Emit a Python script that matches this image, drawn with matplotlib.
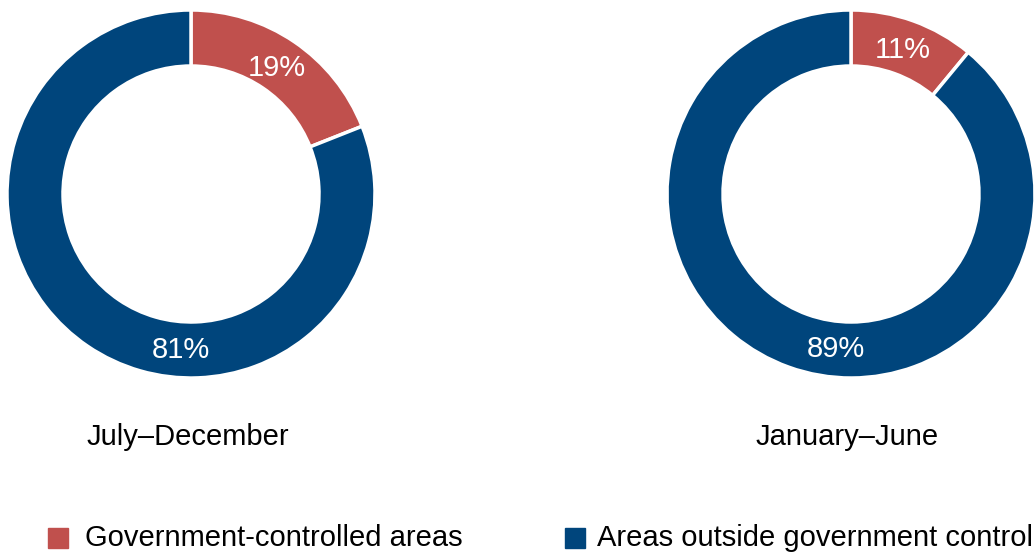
import numpy as np
import matplotlib.pyplot as plt
from matplotlib.patches import Rectangle

plt.rcParams['font.family'] = ['Liberation Sans', 'DejaVu Sans']

# data
periods = ['July–December', 'January–June']
gov_share = [19, 11]
outside_share = [81, 89]
series = ['Government-controlled areas', 'Areas outside government control']
colors = ['#C0504D', '#00457C']
# angle (deg) where the blue label sits
outside_label_angle = [-93.7, -95.5]

W, H = 1035, 552
fig = plt.figure(figsize=(W/100, H/100), dpi=100, facecolor='white')

centers_x = [191, 851]
cy = 194
r_px = 184
inner = 128/184

for i in range(2):
    ax = fig.add_axes([(centers_x[i]-r_px)/W, (H-cy-r_px)/H, 2*r_px/W, 2*r_px/H])
    vals = [gov_share[i], outside_share[i]]
    ax.pie(vals, colors=colors, startangle=90, counterclock=False, radius=1,
           wedgeprops=dict(width=1-inner, edgecolor='white', linewidth=2.5))
    ax.set_xlim(-1, 1)
    ax.set_ylim(-1, 1)
    ax.set_aspect('equal')
    ax.axis('off')
    mid_r = (1+inner)/2
    a_red = np.deg2rad(90 - vals[0]/100*360/2)
    ax.text(0.83*np.cos(a_red), 0.83*np.sin(a_red), f'{vals[0]}%', color='white',
            fontsize=21, ha='center', va='center')
    a_blue = np.deg2rad(outside_label_angle[i])
    ax.text(mid_r*np.cos(a_blue), mid_r*np.sin(a_blue), f'{vals[1]}%', color='white',
            fontsize=21, ha='center', va='center')

# period captions
fig.text(188/W, 1-437/H, periods[0], fontsize=21, ha='center', va='center')
fig.text(847/W, 1-437/H, periods[1], fontsize=21, ha='center', va='center')

# legend, drawn by hand
leg_y = 538
for x_sq, x_txt, c, lab in [(48, 85, colors[0], series[0]), (565, 597, colors[1], series[1])]:
    fig.patches.append(Rectangle((x_sq/W, 1-(leg_y+10)/H), 20/W, 20/H,
                                 transform=fig.transFigure, color=c))
    fig.text(x_txt/W, 1-leg_y/H, lab, fontsize=21, ha='left', va='center')

fig.savefig('out.png', dpi=100)
